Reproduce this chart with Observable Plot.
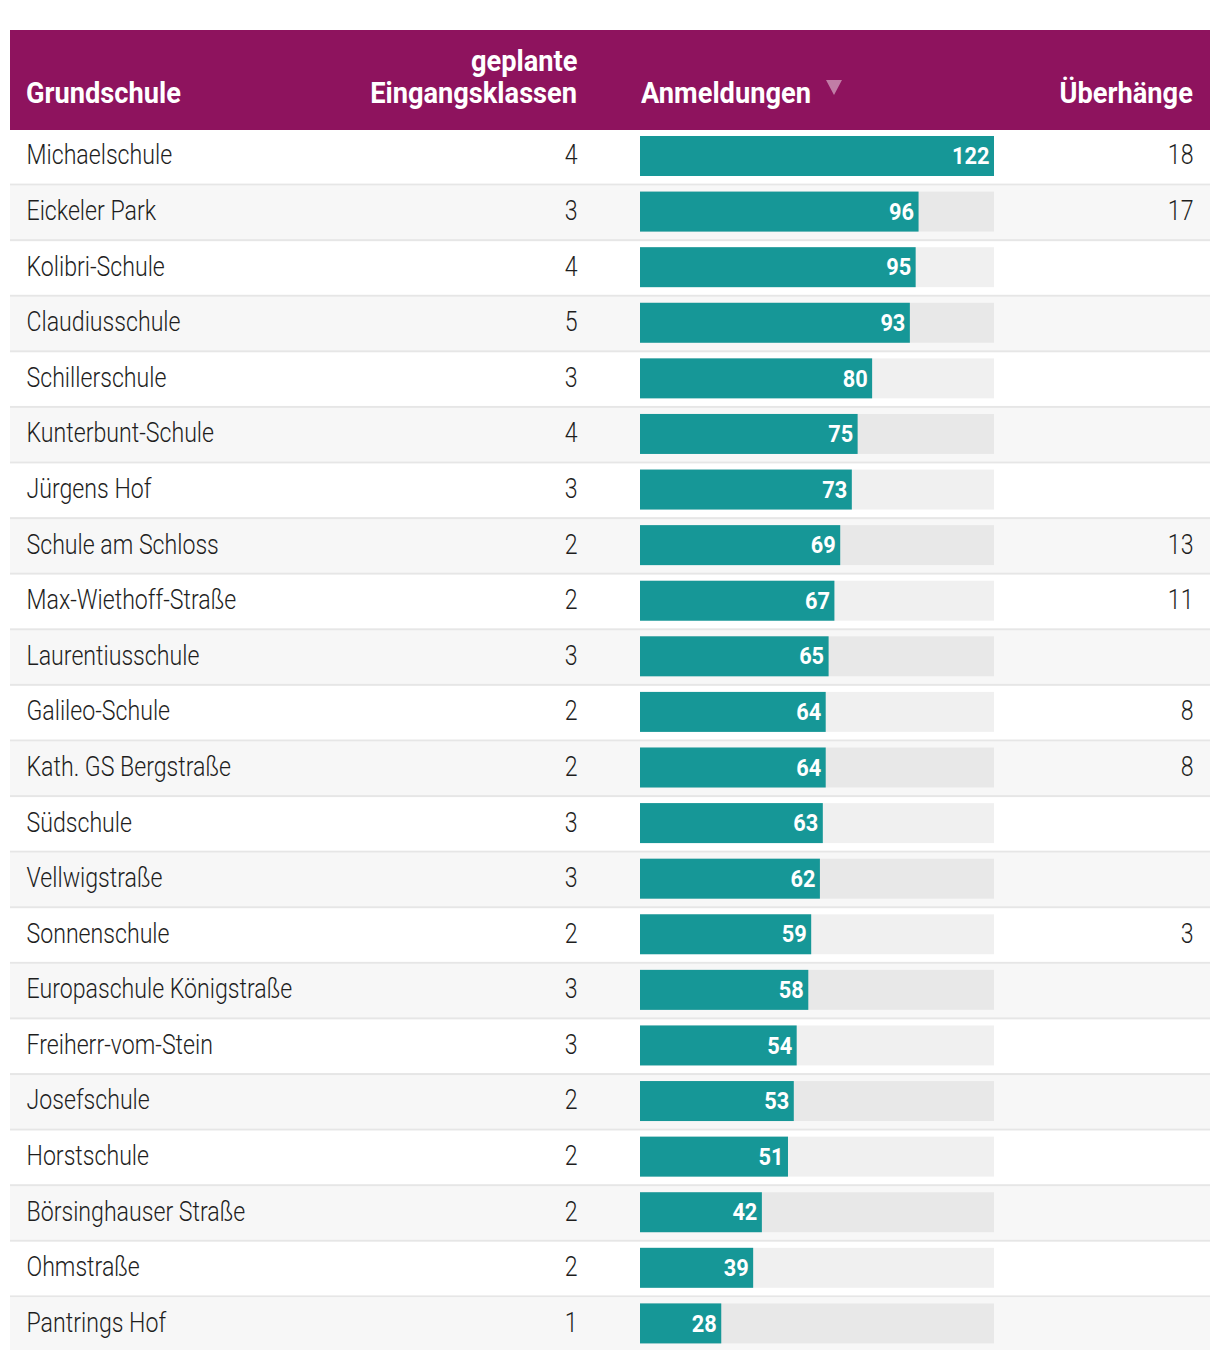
<!DOCTYPE html>
<html>
<head>
<meta charset="utf-8">
<script src="https://cdn.jsdelivr.net/npm/d3@7"></script>
<script src="https://cdn.jsdelivr.net/npm/@observablehq/plot@0.6"></script>
<style>
  html, body { margin: 0; padding: 0; background: #fff; }
  #wrap { position: relative; width: 1220px; height: 1362px; font-family: Roboto, "DejaVu Sans Condensed", sans-serif; }
  #head { position: absolute; left: 10px; top: 30px; width: 1200px; height: 100px; background: #8e135e; color: #fff; font-weight: bold; font-size: 30px; }
  #head .lbl { position: absolute; line-height: 30px; white-space: nowrap; display: inline-block; }
  #tri { position: absolute; left: 816px; top: 50px; width: 0; height: 0;
         border-left: 8px solid transparent; border-right: 8px solid transparent; border-top: 15px solid rgba(255,255,255,0.45); }
  #chart { position: absolute; left: 0; top: 130px; line-height: 0; }
</style>
</head>
<body>
<div id="wrap">
  <div id="head">
    <div class="lbl" id="h1" style="left:16px; top:48px; transform-origin:left center;"></div>
    <div class="lbl" id="h2a" style="right:633px; top:16px; transform-origin:right center;"></div>
    <div class="lbl" id="h2b" style="right:633px; top:48px; transform-origin:right center;"></div>
    <div class="lbl" id="h3" style="left:631px; top:48px; transform-origin:left center;"></div>
    <div id="tri"></div>
    <div class="lbl" id="h4" style="right:17px; top:48px; transform-origin:right center;"></div>
  </div>
  <div id="chart"></div>
</div>
<script>
const headers = ["Grundschule", "geplante", "Eingangsklassen", "Anmeldungen", "Überhänge"];

const schools = ["Michaelschule","Eickeler Park","Kolibri-Schule","Claudiusschule","Schillerschule","Kunterbunt-Schule","Jürgens Hof","Schule am Schloss","Max-Wiethoff-Straße","Laurentiusschule","Galileo-Schule","Kath. GS Bergstraße","Südschule","Vellwigstraße","Sonnenschule","Europaschule Königstraße","Freiherr-vom-Stein","Josefschule","Horstschule","Börsinghauser Straße","Ohmstraße","Pantrings Hof"];
const klassen = [4,3,4,5,3,4,3,2,2,3,2,2,3,3,2,3,3,2,2,2,2,1];
const anmeldungen = [122,96,95,93,80,75,73,69,67,65,64,64,63,62,59,58,54,53,51,42,39,28];
const ueberhaenge = [18,17,null,null,null,null,null,13,11,null,8,8,null,null,3,null,null,null,null,null,null,null];

const headIds = ["h1", "h2a", "h2b", "h3", "h4"];
headIds.forEach((id, i) => document.getElementById(id).textContent = headers[i]);

const rows = schools.map((name, i) => ({
  name, i, klassen: klassen[i], anm: anmeldungen[i], ueb: ueberhaenge[i], max: d3.max(anmeldungen)
}));

const font = "Roboto, DejaVu Sans Condensed, sans-serif";
const barInsetTop = 6, barInsetBottom = 9.6;
const last = rows.length - 1;

const chart = Plot.plot({
  width: 1220,
  height: 1232,
  marginTop: 0,
  marginBottom: 9,
  marginLeft: 10,
  marginRight: 10,
  style: { fontFamily: font, background: "transparent" },
  x: { domain: [0, d3.max(anmeldungen)], range: [640, 994], axis: null },
  y: { domain: schools, padding: 0, round: false, axis: null },
  color: { type: "identity" },
  marks: [
    Plot.cell(rows.filter(d => d.i < last), { y: "name", fill: "#e6e6e6" }),
    Plot.cell(rows.filter(d => d.i < last), { y: "name", fill: d => d.i % 2 ? "#f7f7f7" : "#ffffff", insetBottom: 2 }),
    Plot.cell(rows.filter(d => d.i === last), { y: "name", fill: d => d.i % 2 ? "#f7f7f7" : "#ffffff", insetBottom: 3 }),
    Plot.barX(rows, { x1: 0, x2: "max", y: "name", fill: "#000", fillOpacity: 0.06, insetTop: barInsetTop, insetBottom: barInsetBottom }),
    Plot.barX(rows, { x1: 0, x2: "anm", y: "name", fill: "#169797", insetTop: barInsetTop, insetBottom: barInsetBottom }),
    Plot.text(rows, { x: "anm", y: "name", text: d => String(d.anm), textAnchor: "end", dx: -5, dy: -1.5, fill: "#fff", fontWeight: "bold", fontSize: 23 }),
    Plot.text(rows, { y: "name", text: "name", frameAnchor: "left", textAnchor: "start", dx: 16, dy: -2.5, fill: "#1e1e1e", fontSize: 27, fontWeight: 300 }),
    Plot.text(rows, { y: "name", text: d => String(d.klassen), frameAnchor: "left", textAnchor: "end", dx: 567, dy: -2.5, fill: "#1e1e1e", fontSize: 27, fontWeight: 300 }),
    Plot.text(rows.filter(d => d.ueb != null), { y: "name", text: d => String(d.ueb), frameAnchor: "right", textAnchor: "end", dx: -17, dy: -2.5, fill: "#1e1e1e", fontSize: 27, fontWeight: 300 })
  ]
});
document.getElementById("chart").appendChild(chart);

// condense text horizontally to mimic the narrow typeface of the original
const groups = chart.querySelectorAll('g[aria-label="text"]');
const [gLabels, gNames, gKlassen, gUeb] = groups;
function condense(g, s) {
  g.querySelectorAll("text").forEach(t => {
    const tr = t.getAttribute("transform") || "";
    t.setAttribute("transform", tr + ` scale(${s},1)`);
  });
}
function widthOf(g, str) {
  for (const t of g.querySelectorAll("text")) if (t.textContent === str) return t.getComputedTextLength();
  return null;
}
const wName = widthOf(gNames, "Europaschule Königstraße");
const sName = wName ? 266 / wName : 0.8;
const wLab = widthOf(gLabels, "96");
const sLab = wLab ? Math.min(1, 25 / wLab) : 0.9;
condense(gLabels, sLab);
condense(gNames, sName);
condense(gKlassen, sName);
condense(gUeb, sName);

// header: same narrowing
const targets = { h1: 152, h2b: 207, h3: 172, h4: 134 };
let tot = 0, meas = 0;
for (const id in targets) { tot += targets[id]; meas += document.getElementById(id).getBoundingClientRect().width; }
const sHead = tot / meas;
headIds.forEach(id => document.getElementById(id).style.transform = `scaleX(${sHead})`);
</script>
</body>
</html>
